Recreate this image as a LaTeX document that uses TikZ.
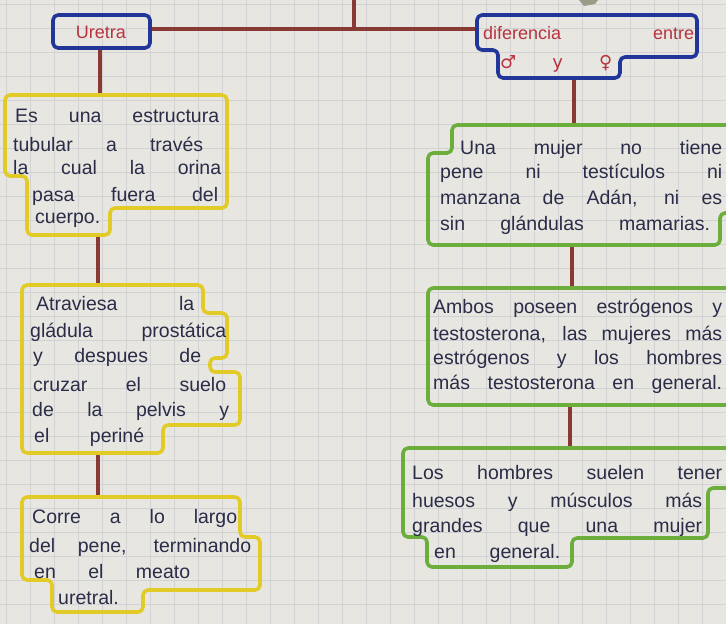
\documentclass[tikz,border=0pt]{standalone}
\usepackage{fontspec}
\setmainfont{Liberation Sans}
\newfontfamily\symfont{DejaVu Sans}
\definecolor{paper}{HTML}{E7E6E1}
\definecolor{gridc}{HTML}{D2D2D4}
\definecolor{bluemk}{HTML}{22369A}
\definecolor{redmk}{HTML}{B8323F}
\definecolor{linkc}{HTML}{8A3A35}
\definecolor{yelmk}{HTML}{E2CB26}
\definecolor{grnmk}{HTML}{6CAE3C}
\definecolor{inkc}{HTML}{2B2D48}
\definecolor{blobc}{HTML}{9A9C88}
\begin{document}
\begin{tikzpicture}[x=1pt,y=-1pt,
  mkbox/.style={line width=3.6pt, rounded corners=5pt, line join=round},
  bluebox/.style={mkbox, draw=bluemk},
  yelbox/.style={mkbox, draw=yelmk},
  grnbox/.style={mkbox, draw=grnmk},
  link/.style={draw=linkc, line width=3.6pt},
  txt/.style={anchor=west, inner sep=0pt, text=inkc, font=\fontsize{19.5}{22}\selectfont},
  redtxt/.style={inner sep=0pt, text=redmk, font=\fontsize{18}{21}\selectfont}]
\useasboundingbox (0,0) rectangle (726,624);
\clip (0,0) rectangle (726,624);
\fill[paper] (0,0) rectangle (726,624);
\foreach \i in {0,...,31} {\draw[gridc, line width=0.6pt] (\i*24+6,0) -- (\i*24+6,624);}
\foreach \j in {0,...,26} {\draw[gridc, line width=0.6pt] (0,\j*24+4) -- (726,\j*24+4);}
\fill[blobc] (579,0) -- (598,0) -- (595,4) -- (584,6) -- cycle;

% named connection points
\coordinate (top) at (354,0);
\coordinate (hub) at (354,29);
\coordinate (uR) at (150,29);
\coordinate (dL) at (477,29);
\coordinate (uB) at (100,48);
\coordinate (y1T) at (100,95);
\coordinate (y1B) at (98,235);
\coordinate (y2T) at (98,285);
\coordinate (y2B) at (98,453);
\coordinate (y3T) at (98,497);
\coordinate (dB) at (574,78);
\coordinate (g1T) at (574,125);
\coordinate (g1B) at (572,245);
\coordinate (g2T) at (572,288);
\coordinate (g2B) at (570,405);
\coordinate (g3T) at (570,448);

% connectors
\draw[link] (top) -- (hub);
\draw[link] (uR) -- (dL);
\draw[link] (uB) -- (y1T);
\draw[link] (y1B) -- (y2T);
\draw[link] (y2B) -- (y3T);
\draw[link] (dB) -- (g1T);
\draw[link] (g1B) -- (g2T);
\draw[link] (g2B) -- (g3T);

% boxes
\draw[bluebox] (53,15) -- (150,15) -- (150,48) -- (53,48) -- cycle;
\draw[bluebox] (477,15) -- (697,15) -- (697,57) -- (620,57) -- (620,78) -- (498,78) -- (498,50) -- (477,50) -- cycle;
\draw[yelbox] (5,95) -- (227,95) -- (227,208) -- (110,208) -- (110,235) -- (27,235) -- (27,176) -- (5,176) -- cycle;
\draw[yelbox] (22,285) -- (203,285) -- (203,313) -- (227,313) -- (227,358) -- (210,358) -- (210,372) -- (240,372) -- (240,425) -- (163,425) -- (163,453) -- (22,453) -- cycle;
\draw[yelbox] (22,497) -- (240,497) -- (240,537) -- (260,537) -- (260,590) -- (143,590) -- (143,612) -- (52,612) -- (52,580) -- (22,580) -- cycle;
\draw[grnbox] (452,125) -- (760,125) -- (760,213) -- (720,213) -- (720,245) -- (428,245) -- (428,153) -- (452,153) -- cycle;
\draw[grnbox] (428,288) -- (760,288) -- (760,405) -- (428,405) -- cycle;
\draw[grnbox] (403,448) -- (760,448) -- (760,488) -- (708,488) -- (708,538) -- (572,538) -- (572,567) -- (427,567) -- (427,537) -- (403,537) -- cycle;

% titles
\node[redtxt] (uretra) at (101,32) {Uretra};
\node[redtxt, anchor=west] (dif) at (483,33) {\makebox[211pt][s]{diferencia entre}};
\node[redtxt, anchor=west] (sex) at (500,64) {\makebox[112pt][s]{\symfont ♂ y ♀}};

% yellow box 1
\node[txt] (a1) at (15,116) {\makebox[204pt][s]{Es una estructura}};
\node[txt] (a2) at (13,144) {\makebox[190pt][s]{tubular a través}};
\node[txt] (a3) at (13,168) {\makebox[208pt][s]{la cual la orina}};
\node[txt] (a4) at (32,196) {\makebox[186pt][s]{pasa fuera del}};
\node[txt] (a5) at (35,220) {cuerpo.};

% yellow box 2
\node[txt] (b1) at (36,304) {\makebox[158pt][s]{Atraviesa la}};
\node[txt] (b2) at (30,332) {\makebox[196pt][s]{gládula prostática}};
\node[txt] (b3) at (33,357) {\makebox[168pt][s]{y despues de}};
\node[txt] (b4) at (33,385) {\makebox[193pt][s]{cruzar el suelo}};
\node[txt] (b5) at (32,411) {\makebox[197pt][s]{de la pelvis y}};
\node[txt] (b6) at (34,437) {\makebox[110pt][s]{el periné}};

% yellow box 3
\node[txt] (c1) at (32,518) {\makebox[205pt][s]{Corre a lo largo}};
\node[txt] (c2) at (29,547) {\makebox[222pt][s]{del pene, terminando}};
\node[txt] (c3) at (34,572) {\makebox[156pt][s]{en el meato}};
\node[txt] (c4) at (58,598) {uretral.};

% green box 1
\node[txt] (d1) at (460,149) {\makebox[262pt][s]{Una mujer no tiene}};
\node[txt] (d2) at (440,173) {\makebox[282pt][s]{pene ni testículos ni}};
\node[txt] (d3) at (440,199) {\makebox[282pt][s]{manzana de Adán, ni es}};
\node[txt] (d4) at (440,225) {\makebox[270pt][s]{sin glándulas mamarias.}};

% green box 2
\node[txt] (e1) at (433,308) {\makebox[289pt][s]{Ambos poseen estrógenos y}};
\node[txt] (e2) at (433,335) {\makebox[289pt][s]{testosterona, las mujeres más}};
\node[txt] (e3) at (433,359) {\makebox[289pt][s]{estrógenos y los hombres}};
\node[txt] (e4) at (433,384) {\makebox[289pt][s]{más testosterona en general.}};

% green box 3
\node[txt] (f1) at (412,473) {\makebox[310pt][s]{Los hombres suelen tener}};
\node[txt] (f2) at (412,502) {\makebox[290pt][s]{huesos y músculos más}};
\node[txt] (f3) at (412,527) {\makebox[290pt][s]{grandes que una mujer}};
\node[txt] (f4) at (434,553) {\makebox[126pt][s]{en general.}};
\end{tikzpicture}
\end{document}
